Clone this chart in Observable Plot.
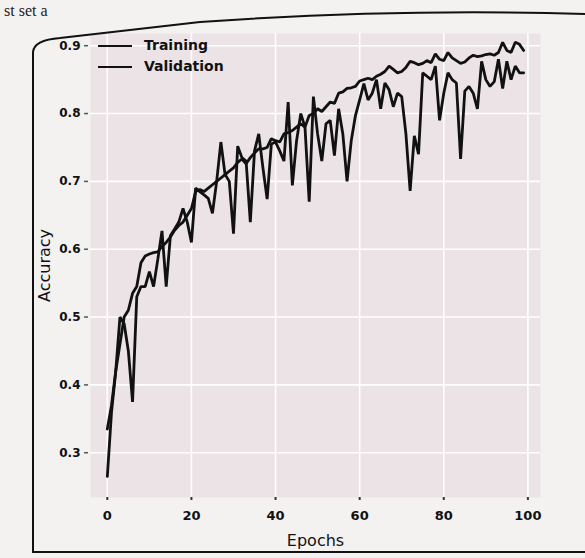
<!DOCTYPE html>
<html>
<head>
<meta charset="utf-8">
<script src="https://cdn.jsdelivr.net/npm/d3@7"></script>
<script src="https://cdn.jsdelivr.net/npm/@observablehq/plot@0.6"></script>
<style>
  html, body { margin: 0; padding: 0; background: #f4f2f1; }
  #wrap { position: relative; width: 585px; height: 558px; overflow: hidden; font-family: "DejaVu Sans", sans-serif; }
  #chart { position: absolute; left: 0; top: 0; }
  #decor { position: absolute; left: 0; top: 0; pointer-events: none; }
  #legend { position: absolute; left: 98px; top: 35px; font-size: 14px; font-weight: bold; color: #111; line-height: 21px; }
  #legend .row { display: flex; align-items: center; }
  #legend .sw { width: 34px; height: 0; border-top: 2.6px solid #111; margin-right: 12px; }
  #pagetext { position: absolute; left: 4px; top: 3px; font-family: "Liberation Serif", serif; font-size: 16px; line-height: 16px; color: #222; }
</style>
</head>
<body>
<div id="wrap">
  <div id="chart"></div>
  <svg id="decor" width="585" height="558">
    <path d="M33,52 Q34,40 60,38 L200,22 Q400,8 585,14" fill="none" stroke="#111" stroke-width="2"/>
    <path d="M33,52 L33,552 L585,552" fill="none" stroke="#111" stroke-width="2"/>
  </svg>
  <div id="pagetext">st set a</div>
  <div id="legend">
    <div class="row"><div class="sw"></div><span>Training</span></div>
    <div class="row"><div class="sw"></div><span>Validation</span></div>
  </div>
</div>
<script>
const epochs = d3.range(0, 100);
const training = [
  0.265, 0.36, 0.42, 0.46, 0.50, 0.51, 0.535, 0.545, 0.58, 0.59,
  0.593, 0.595, 0.596, 0.604, 0.61, 0.618, 0.628, 0.635, 0.64, 0.65,
  0.66, 0.685, 0.688, 0.685, 0.69, 0.695, 0.70, 0.705, 0.71, 0.715,
  0.72, 0.728, 0.733, 0.726, 0.735, 0.742, 0.748, 0.748, 0.75, 0.763,
  0.76, 0.758, 0.77, 0.772, 0.775, 0.78, 0.785, 0.78, 0.797, 0.80,
  0.807, 0.803, 0.81, 0.817, 0.815, 0.83, 0.832, 0.837, 0.838, 0.84,
  0.848, 0.85, 0.852, 0.85, 0.855, 0.858, 0.862, 0.87, 0.865, 0.86,
  0.862, 0.868, 0.877, 0.875, 0.872, 0.874, 0.878, 0.875, 0.888, 0.88,
  0.878, 0.89, 0.882, 0.878, 0.874, 0.876, 0.882, 0.886, 0.884, 0.885,
  0.887, 0.888, 0.886, 0.89, 0.905, 0.893, 0.89, 0.905, 0.902, 0.893
];
const validation = [
  0.335, 0.37, 0.42, 0.50, 0.49, 0.45, 0.375, 0.53, 0.545, 0.545,
  0.567, 0.545, 0.585, 0.627, 0.545, 0.62, 0.63, 0.64, 0.66, 0.64,
  0.61, 0.69, 0.685, 0.68, 0.675, 0.653, 0.70, 0.758, 0.71, 0.70,
  0.623, 0.752, 0.735, 0.73, 0.64, 0.745, 0.77, 0.72, 0.674, 0.755,
  0.758, 0.745, 0.73, 0.817, 0.694, 0.76, 0.80, 0.78, 0.67, 0.825,
  0.77, 0.73, 0.785, 0.79, 0.738, 0.807, 0.77, 0.70, 0.76, 0.797,
  0.82, 0.844, 0.82, 0.83, 0.85, 0.807, 0.845, 0.835, 0.81, 0.83,
  0.825, 0.77, 0.686, 0.767, 0.74, 0.86, 0.855, 0.85, 0.87, 0.79,
  0.83, 0.86, 0.85, 0.845, 0.733, 0.833, 0.84, 0.83, 0.807, 0.877,
  0.85, 0.84, 0.847, 0.88, 0.837, 0.877, 0.85, 0.87, 0.86, 0.86
];
const xTicks = [0, 20, 40, 60, 80, 100];
const yTicks = [0.3, 0.4, 0.5, 0.6, 0.7, 0.8, 0.9];

const rows = [];
epochs.forEach((e, i) => {
  rows.push({epoch: e, acc: training[i], series: "Training"});
  rows.push({epoch: e, acc: validation[i], series: "Validation"});
});

const chart = Plot.plot({
  width: 585,
  height: 558,
  marginLeft: 90,
  marginRight: 45,
  marginTop: 33,
  marginBottom: 61,
  style: {fontFamily: "DejaVu Sans, sans-serif", fontSize: "12px", fontWeight: "bold", color: "#111", background: "transparent"},
  x: {domain: [-4, 103], ticks: xTicks, label: "Epochs", labelAnchor: "center", labelArrow: "none", labelOffset: 48},
  y: {domain: [0.234, 0.918], ticks: yTicks, label: "Accuracy", labelAnchor: "center", labelArrow: "none", labelOffset: 52, tickFormat: d3.format(".1f")},
  marks: [
    Plot.frame({fill: "#ebe3e5", stroke: null}),
    Plot.gridX(xTicks, {stroke: "#fff", strokeOpacity: 1, strokeWidth: 1.6}),
    Plot.gridY(yTicks, {stroke: "#fff", strokeOpacity: 1, strokeWidth: 1.6}),
    Plot.axisX(xTicks, {tickSize: 3, tickPadding: 10, stroke: "#333", strokeWidth: 2, fontSize: 13, label: "Epochs", labelAnchor: "center", labelArrow: "none", labelOffset: 48}),
    Plot.axisY(yTicks, {tickSize: 4, tickPadding: 4, stroke: "#555", strokeWidth: 1.5, dx: -2, fontSize: 12, tickFormat: d3.format(".1f"), label: "Accuracy", labelAnchor: "center", labelArrow: "none", labelOffset: 52}),
    Plot.line(rows, {x: "epoch", y: "acc", z: "series", stroke: "#111", strokeWidth: 2.8, strokeLinejoin: "miter"})
  ]
});
document.getElementById("chart").appendChild(chart);
chart.querySelectorAll("g[aria-label='x-axis label'] text, g[aria-label='y-axis label'] text").forEach(t => {
  t.setAttribute("font-size", "16");
  t.setAttribute("font-weight", "normal");
});
</script>
</body>
</html>
